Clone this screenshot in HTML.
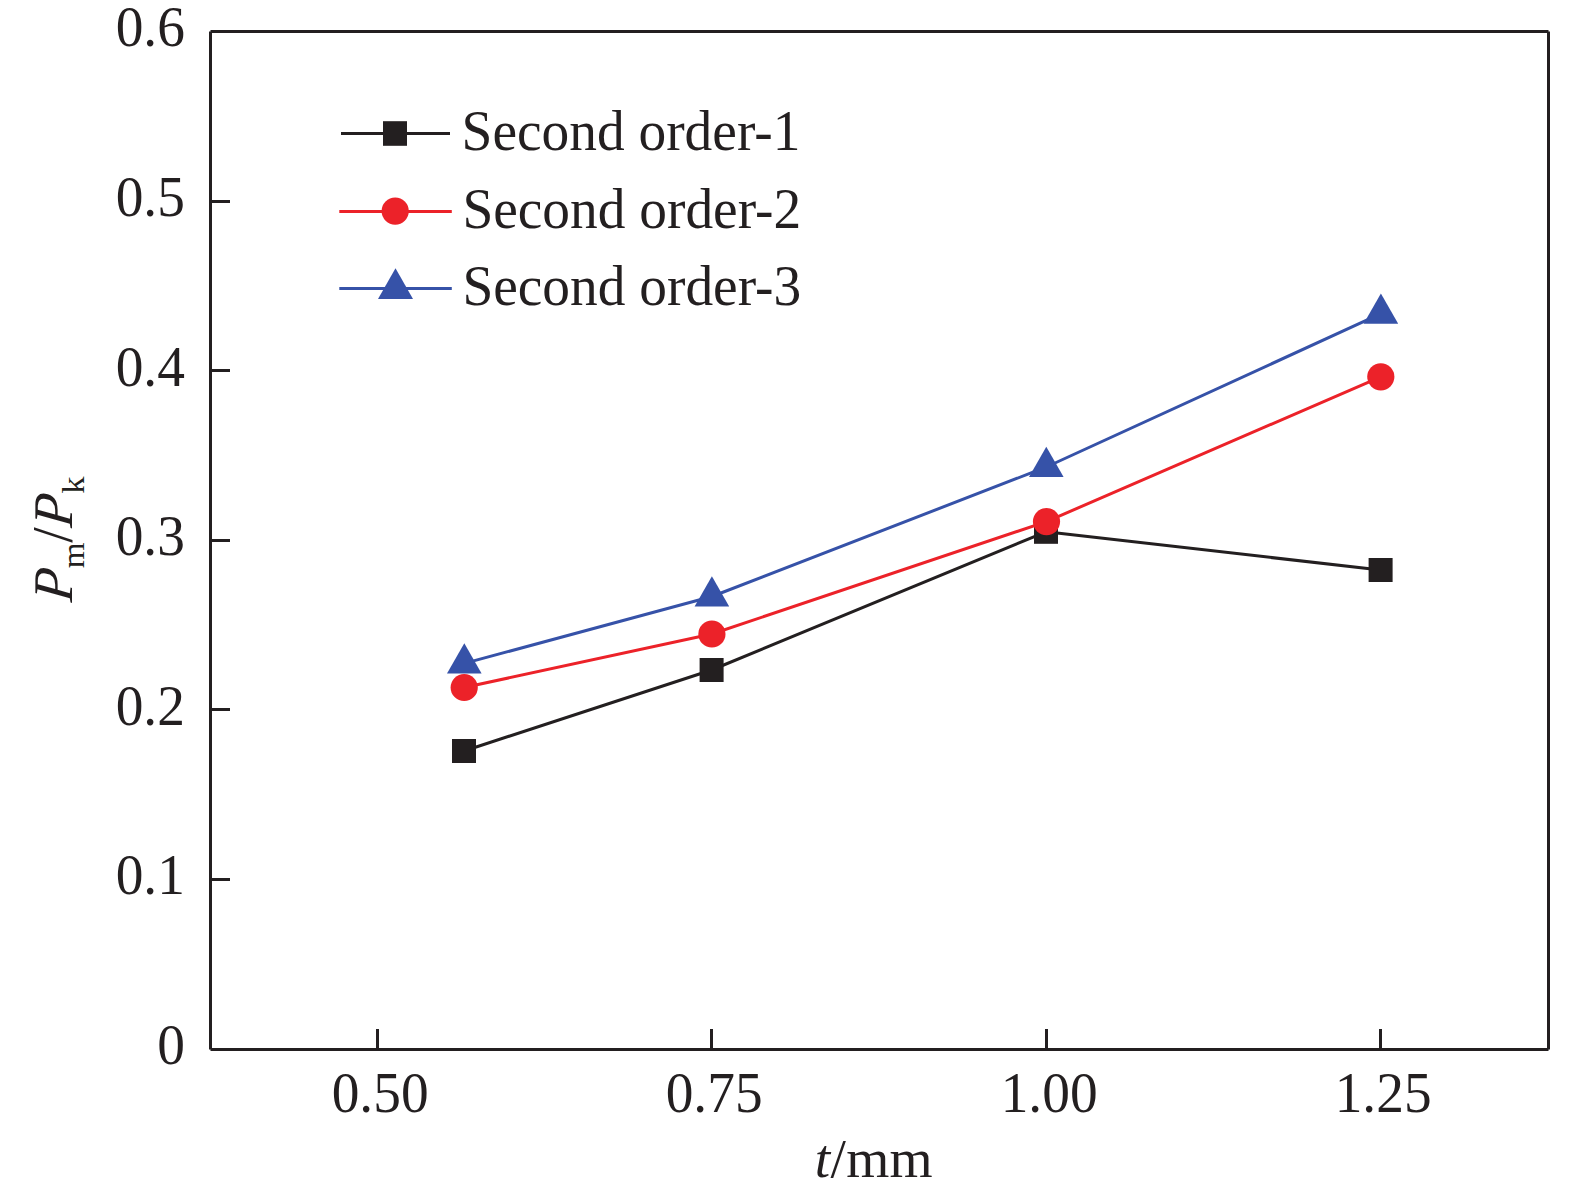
<!DOCTYPE html>
<html lang="en">
<head>
<meta charset="utf-8">
<title>Pm/Pk versus t</title>
<style>
html,body{margin:0;padding:0;background:#ffffff;}
body{width:1575px;height:1195px;overflow:hidden;}
svg{display:block;}
text{font-family:"Liberation Serif","Times New Roman",serif;fill:#231f20;font-size:55.4px;}
.i{font-style:italic;}
</style>
</head>
<body>
<svg width="1575" height="1195" viewBox="0 0 1575 1195">
<rect x="0" y="0" width="1575" height="1195" fill="#ffffff"/>

<!-- plot frame -->
<g stroke="#231f20" stroke-width="3">
<line x1="210.5" y1="31.5" x2="1548.5" y2="31.5"/>
<line x1="1548.5" y1="31.5" x2="1548.5" y2="1049.5"/>
<line x1="210.5" y1="1049.5" x2="1548.5" y2="1049.5"/>
<line x1="210.5" y1="31.5" x2="210.5" y2="1049.5"/>
<line x1="210.5" y1="201.5" x2="230" y2="201.5"/>
<line x1="210.5" y1="370.5" x2="230" y2="370.5"/>
<line x1="210.5" y1="540.5" x2="230" y2="540.5"/>
<line x1="210.5" y1="709.5" x2="230" y2="709.5"/>
<line x1="210.5" y1="879.5" x2="230" y2="879.5"/>
<line x1="377.5" y1="1049.5" x2="377.5" y2="1029"/>
<line x1="711.5" y1="1049.5" x2="711.5" y2="1029"/>
<line x1="1046.5" y1="1049.5" x2="1046.5" y2="1029"/>
<line x1="1380.5" y1="1049.5" x2="1380.5" y2="1029"/>
</g>
<!-- y tick labels -->
<g text-anchor="end">
<text transform="translate(184.9,46) scale(1,1.02)">0.6</text>
<text transform="translate(184.9,216) scale(1,1.02)">0.5</text>
<text transform="translate(184.9,386) scale(1,1.02)">0.4</text>
<text transform="translate(184.9,555) scale(1,1.02)">0.3</text>
<text transform="translate(184.9,725) scale(1,1.02)">0.2</text>
<text transform="translate(184.9,894) scale(1,1.02)">0.1</text>
<text transform="translate(184.9,1064) scale(1,1.02)">0</text>
</g>
<!-- x tick labels -->
<g text-anchor="middle">
<text transform="translate(380.1,1112) scale(1,1.02)">0.50</text>
<text transform="translate(714.1,1112) scale(1,1.02)">0.75</text>
<text transform="translate(1049.1,1112) scale(1,1.02)">1.00</text>
<text transform="translate(1383.1,1112) scale(1,1.02)">1.25</text>
</g>
<!-- x axis title -->
<text y="1177"><tspan class="i" x="814.7">t</tspan><tspan x="830.6">/</tspan><tspan x="846.3">mm</tspan></text>
<!-- y axis title -->
<g transform="translate(71.5,603.1) rotate(-90)"><text class="i" style="font-size:56px" transform="translate(0.3,0) scale(0.966,1) skewX(-6.5)">P</text><text style="font-size:31px" transform="translate(34.9,12) scale(1.07,1)">m</text><text transform="translate(60.25,0) scale(1,1.035)">/</text><text class="i" style="font-size:56px" transform="translate(74.9,0) scale(0.966,1) skewX(-6.5)">P</text><text style="font-size:31.5px" transform="translate(109.4,12) scale(1.10,1)">k</text></g>
<!-- series -->
<g fill="none" stroke-linejoin="round">
<polyline stroke="#231f20" stroke-width="3" points="464,751 711.6,670 1046,531.8 1380.6,570"/>
<polyline stroke="#ec2229" stroke-width="3" points="464.2,687.5 711.9,634 1046.5,521.6 1380.8,376.8"/>
<polyline stroke="#3652a8" stroke-width="3" points="464.3,663.4 711.9,596.5 1046.3,467 1380.9,313.7"/>
</g>
<g fill="#231f20">
<rect x="452.0" y="739.0" width="24" height="24"/>
<rect x="699.6" y="658.0" width="24" height="24"/>
<rect x="1034.0" y="519.8" width="24" height="24"/>
<rect x="1368.6" y="558.0" width="24" height="24"/>
</g>
<g fill="#ec2229">
<circle cx="464.2" cy="687.5" r="13.6"/>
<circle cx="711.9" cy="634" r="13.6"/>
<circle cx="1046.5" cy="521.6" r="13.6"/>
<circle cx="1380.8" cy="376.8" r="13.6"/>
</g>
<g fill="#3652a8">
<path d="M464.3,643.2 l17.3,30.3 h-34.6 z"/>
<path d="M711.9,576.3 l17.3,30.3 h-34.6 z"/>
<path d="M1046.3,446.8 l17.3,30.3 h-34.6 z"/>
<path d="M1380.9,293.5 l17.3,30.3 h-34.6 z"/>
</g>
<!-- legend -->
<line x1="341" y1="133.5" x2="450" y2="133.5" stroke="#231f20" stroke-width="3"/>
<rect x="383" y="121.2" width="24" height="24.6" fill="#231f20"/>
<line x1="339.3" y1="211.5" x2="451.8" y2="211.5" stroke="#ec2229" stroke-width="3"/>
<circle cx="395.2" cy="211.1" r="13.6" fill="#ec2229"/>
<line x1="339.3" y1="288.5" x2="451.8" y2="288.5" stroke="#3652a8" stroke-width="3"/>
<path d="M395.5,268.2 l17.5,30.8 h-35 z" fill="#3652a8"/>
<text transform="translate(461.6,150) scale(1,1.03)">Second order-1</text>
<text transform="translate(462.4,228) scale(1,1.03)">Second order-2</text>
<text transform="translate(462.4,305) scale(1,1.03)">Second order-3</text>
</svg>
</body>
</html>
